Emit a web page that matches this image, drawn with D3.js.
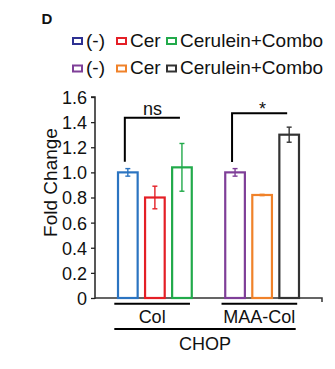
<!DOCTYPE html>
<html><head><meta charset="utf-8">
<script src="https://cdn.jsdelivr.net/npm/d3@7"></script>
<style>body{margin:0;background:#fff}svg{display:block}text{font-family:"Liberation Sans",Arial,sans-serif;fill:#111}</style>
</head><body>
<script>
// ---- data ----
const groups = ["Col", "MAA-Col"];
const subgroups = ["(-)", "Cer", "Cerulein+Combo"];
const colValues = [1.00, 0.80, 1.04];
const colErrors = [0.03, 0.09, 0.19];
const maaValues = [1.00, 0.82, 1.30];
const maaErrors = [0.03, 0.005, 0.06];
const colColors = ["#2b74c1", "#e41f26", "#22aa4b"];
const maaColors = ["#7f3f98", "#f0822a", "#333333"];
const legendRow1Colors = ["#2e3192", "#e41f26", "#22aa4b"];
const legendRow2Colors = ["#7f3f98", "#f0822a", "#333333"];
const yTicks = [0, 0.2, 0.4, 0.6, 0.8, 1.0, 1.2, 1.4, 1.6];
const sigLabels = ["ns", "*"];
const sigTop = [1.435, 1.47];
const sigBottom = [1.085, 1.083];
const panelLabel = "D";
const yTitle = "Fold Change";
const geneLabel = "CHOP";

const values = [colValues, maaValues];
const errors = [colErrors, maaErrors];
const colors = [colColors, maaColors];

const W = 335, H = 369;
const svg = d3.select("body").append("svg").attr("width", W).attr("height", H);

const y = d3.scaleLinear().domain([0, 1.6]).range([298, 97]);
const x0 = d3.scaleBand().domain(groups).range([95, 322]).paddingInner(0.243).paddingOuter(0.18);
const x1 = d3.scaleBand().domain(subgroups).range([0, x0.bandwidth()]).paddingInner(0.2).paddingOuter(0.1);

// panel label
svg.append("text").attr("x", 41.5).attr("y", 23.5).attr("font-size", 15).attr("font-weight", "bold").text(panelLabel);

// legend
const legCols = [73, 117, 167];
[legendRow1Colors, legendRow2Colors].forEach((cols, r) => {
  const by = 46.5 + r * 27.5;
  subgroups.forEach((s, i) => {
    svg.append("rect").attr("x", legCols[i]).attr("y", by - 8.5).attr("width", 9).attr("height", 6)
      .attr("fill", "none").attr("stroke", cols[i]).attr("stroke-width", 2);
    svg.append("text").attr("x", legCols[i] + 13).attr("y", by).attr("font-size", 19).text(s);
  });
});

// y axis
const yAxis = d3.axisLeft(y).tickValues(yTicks).tickSize(4).tickPadding(4)
  .tickFormat(d => d === 0 ? "0" : d.toFixed(1));
const ya = svg.append("g").attr("transform", "translate(95,0)").call(yAxis);
ya.select(".domain").attr("stroke", "#222").attr("stroke-width", 1.5).attr("d", "M-4,97H0V299");
ya.selectAll(".tick line").attr("stroke", "#222").attr("stroke-width", 1.3);
ya.selectAll(".tick text").attr("font-size", 18).attr("fill", "#111").attr("dy", "0.36em")
  .style("font-family", "'Liberation Sans',Arial,sans-serif");

// x axis line
svg.append("path").attr("d", `M95,298H322V302`).attr("fill", "none").attr("stroke", "#333").attr("stroke-width", 1.5);

// y title
svg.append("text").attr("transform", "translate(57,182.5) rotate(-90)").attr("text-anchor", "middle")
  .attr("font-size", 19).text(yTitle);

// bars
groups.forEach((g, gi) => {
  subgroups.forEach((s, si) => {
    const bx = x0(g) + x1(s), bw = x1.bandwidth();
    const v = values[gi][si], e = errors[gi][si], c = colors[gi][si];
    svg.append("rect").attr("x", bx + 1).attr("y", y(v)).attr("width", bw - 2).attr("height", y(0) - y(v))
      .attr("fill", "none").attr("stroke", c).attr("stroke-width", 2.2);
    const cx = bx + bw / 2;
    const eg = svg.append("g").attr("stroke", c).attr("stroke-width", 1.4);
    eg.append("line").attr("x1", cx).attr("x2", cx).attr("y1", y(v + e)).attr("y2", y(v - e));
    eg.append("line").attr("x1", cx - 2.5).attr("x2", cx + 2.5).attr("y1", y(v + e)).attr("y2", y(v + e));
    eg.append("line").attr("x1", cx - 2.5).attr("x2", cx + 2.5).attr("y1", y(v - e)).attr("y2", y(v - e));
  });
  // significance bracket
  const xa = x0(g) + x1(subgroups[0]) + x1.bandwidth() / 2 - 3;
  const xb = x0(g) + x1(subgroups[2]) + x1.bandwidth() / 2 - 2;
  svg.append("path").attr("d", `M${xa},${y(sigBottom[gi])}V${y(sigTop[gi])}H${xb}`)
    .attr("fill", "none").attr("stroke", "#000").attr("stroke-width", 2);
  svg.append("text").attr("x", (xa + xb) / 2 + (gi === 1 ? 3 : 0)).attr("y", y(sigTop[gi]) - (gi === 1 ? -1.5 : 3))
    .attr("text-anchor", "middle").attr("font-size", 18).text(sigLabels[gi]);
  // group underline and label
  const gx = x0(g);
  svg.append("line").attr("x1", gx).attr("x2", gx + x0.bandwidth() - 5.5).attr("y1", 303.7).attr("y2", 303.7)
    .attr("stroke", "#000").attr("stroke-width", 2);
  svg.append("text").attr("x", gx + (x0.bandwidth() - 5.5) / 2).attr("y", 322.5).attr("text-anchor", "middle")
    .attr("font-size", 18).text(g);
});

// gene label
const gStart = x0(groups[0]), gEnd = x0(groups[1]) + x0.bandwidth() - 7;
svg.append("line").attr("x1", gStart).attr("x2", gEnd).attr("y1", 329).attr("y2", 329).attr("stroke", "#000").attr("stroke-width", 2);
svg.append("text").attr("x", (gStart + gEnd) / 2).attr("y", 350).attr("text-anchor", "middle").attr("font-size", 18).text(geneLabel);
</script>
</body></html>
